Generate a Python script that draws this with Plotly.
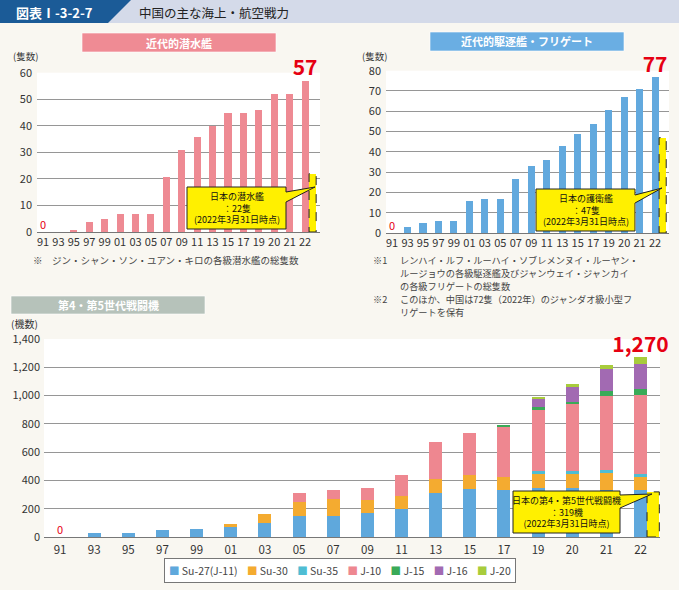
import plotly.graph_objects as go

# ---------------- data ----------------
years = ["91", "93", "95", "97", "99", "01", "03", "05", "07", "09",
         "11", "13", "15", "17", "19", "20", "21", "22"]
submarines = [0, 0, 1, 4, 5, 7, 7, 7, 21, 31, 36, 40, 45, 45, 46, 52, 52, 57]
japan_submarines = 22
destroyers = [0, 3, 5, 6, 6, 16, 17, 17, 27, 33, 36, 43, 49, 54, 61, 67, 71, 77]
japan_destroyers = 47

fighter_names = ["Su-27(J-11)", "Su-30", "Su-35", "J-10", "J-15", "J-16", "J-20"]
su27 = [0, 26, 30, 50, 54, 71, 101, 149, 149, 170, 196, 312, 340, 330, 347, 347, 330, 330]
su30 = [0, 0, 0, 0, 0, 23, 59, 99, 121, 94, 97, 96, 99, 97, 102, 102, 123, 95]
su35 = [0, 0, 0, 0, 0, 0, 0, 0, 0, 0, 0, 0, 0, 0, 21, 21, 24, 24]
j10 = [0, 0, 0, 0, 0, 0, 0, 64, 60, 85, 144, 265, 293, 352, 427, 470, 519, 552]
j15 = [0, 0, 0, 0, 0, 0, 0, 0, 0, 0, 0, 0, 0, 12, 19, 18, 33, 49]
j16 = [0, 0, 0, 0, 0, 0, 0, 0, 0, 0, 0, 0, 0, 0, 61, 102, 158, 173]
j20 = [0, 0, 0, 0, 0, 0, 0, 0, 0, 0, 0, 0, 0, 0, 12, 21, 26, 47]
japan_fighters = 319
fighter_series = [su27, su30, su35, j10, j15, j16, j20]

note_sub = "※　ジン・シャン・ソン・ユアン・キロの各級潜水艦の総隻数"
note_des_marks = ["※1", "", "", "※2", ""]
note_des_lines = ["レンハイ・ルフ・ルーハイ・ソブレメンヌイ・ルーヤン・",
                  "ルージョウの各級駆逐艦及びジャンウェイ・ジャンカイ",
                  "の各級フリゲートの総隻数",
                  "このほか、中国は72隻（2022年）のジャンダオ級小型フ",
                  "リゲートを保有"]

# ---------------- style ----------------
W, H = 679, 590
FONT = "Noto Sans CJK JP"
BG = "#f9f7f1"
GRID = "#969696"
TXT = "#333333"
RED = "#e60012"
YEL = "#fff000"
SUB_COLOR = "#ee8a93"
DES_COLOR = "#62a9de"
FIGHTER_COLORS = ["#5fa8dc", "#f4ab30", "#4fbdd3", "#ee8790", "#3aaa58", "#a26ab2", "#a8cc3c"]


def fx(px):
    return px / W


def fy(py):
    return 1 - py / H


fig = go.Figure()

# top-left: submarines
fig.add_trace(go.Bar(x=years, y=submarines, marker_color=SUB_COLOR, width=0.46, offset=-0.23,
                     xaxis="x", yaxis="y", showlegend=False))
fig.add_trace(go.Bar(x=[years[-1]], y=[japan_submarines], marker_color=YEL, width=0.46, offset=0.26,
                     xaxis="x", yaxis="y", showlegend=False))
# top-right: destroyers
fig.add_trace(go.Bar(x=years, y=destroyers, marker_color=DES_COLOR, width=0.46, offset=-0.23,
                     xaxis="x2", yaxis="y2", showlegend=False))
fig.add_trace(go.Bar(x=[years[-1]], y=[japan_destroyers], marker_color=YEL, width=0.46, offset=0.26,
                     xaxis="x2", yaxis="y2", showlegend=False))
# bottom: fighters stacked via explicit bases
base = [0] * len(years)
for name, vals, col in zip(fighter_names, fighter_series, FIGHTER_COLORS):
    fig.add_trace(go.Bar(x=years, y=vals, base=list(base), name=name, marker_color=col,
                         width=0.38, offset=-0.19, xaxis="x3", yaxis="y3", showlegend=False))
    base = [b + v for b, v in zip(base, vals)]
totals = base
fig.add_trace(go.Bar(x=[years[-1]], y=[japan_fighters], marker_color=YEL, width=0.36, offset=0.19,
                     xaxis="x3", yaxis="y3", showlegend=False))

# red value labels (first and last year) as text traces
for ax, vals in [("", submarines), ("2", destroyers), ("3", totals)]:
    fig.add_trace(go.Scatter(x=[years[0]], y=[vals[0]], mode="text", text=[str(vals[0])],
                             textposition="top center", cliponaxis=False, showlegend=False,
                             textfont=dict(family=FONT, size=11, color=RED),
                             xaxis="x" + ax, yaxis="y" + ax, hoverinfo="skip"))
    fig.add_trace(go.Scatter(x=[years[-1]], y=[vals[-1]], mode="text", text=[f"<b>{vals[-1]:,}</b>"],
                             textposition="top center", cliponaxis=False, showlegend=False,
                             textfont=dict(family=FONT, size=21, color=RED),
                             xaxis="x" + ax, yaxis="y" + ax, hoverinfo="skip"))

last = len(years) - 1
shapes = []
# dashed outlines of the Japan bars
for ax, val, off, w in [("", japan_submarines, 0.26, 0.46), ("2", japan_destroyers, 0.26, 0.46),
                        ("3", japan_fighters, 0.19, 0.36)]:
    shapes.append(dict(type="rect", xref="x" + ax, yref="y" + ax, x0=last + off, x1=last + off + w,
                       y0=0, y1=val, line=dict(color="#222", width=1, dash="dash"), layer="above"))

# header
shapes.append(dict(type="rect", xref="paper", yref="paper", x0=0, x1=1, y0=fy(23), y1=1,
                   fillcolor="#d4dae9", line_width=0, layer="below"))
shapes.append(dict(type="path", xref="paper", yref="paper",
                   path=f"M {fx(0)},{fy(0)} L {fx(131)},{fy(0)} L {fx(108)},{fy(23)} L {fx(0)},{fy(23)} Z",
                   fillcolor="#1b5b97", line_width=0, layer="below"))

# title boxes
for (x0, x1, y0, y1, col) in [(82, 276, 33, 52, "#ef8b94"), (430, 624, 32, 51, "#6aaee3"),
                              (11, 205, 296, 314, "#b6c2ba")]:
    shapes.append(dict(type="rect", xref="paper", yref="paper", x0=fx(x0), x1=fx(x1), y0=fy(y1), y1=fy(y0),
                       fillcolor=col, line=dict(color="rgba(255,255,255,0.6)", width=1), layer="below"))


# callouts (box + wedge)
def callout(x0, x1, y0, y1, wy0, wy1, tx, ty):
    p = (f"M {fx(x0)},{fy(y0)} L {fx(x1)},{fy(y0)} L {fx(x1)},{fy(wy0)} L {fx(tx)},{fy(ty)} "
         f"L {fx(x1)},{fy(wy1)} L {fx(x1)},{fy(y1)} L {fx(x0)},{fy(y1)} Z")
    return dict(type="path", xref="paper", yref="paper", path=p, fillcolor=YEL,
                line=dict(color="#222", width=1), layer="above")


shapes.append(callout(187, 286, 187, 229, 192, 202, 315, 187))
shapes.append(callout(536, 635, 189, 231, 195, 203, 662, 188))
shapes.append(callout(513, 620, 491, 533, 495, 508, 652, 494))

ann = []


def text(x, y, t, size=10, color=TXT, xanchor="left", yanchor="middle", **kw):
    ann.append(dict(x=fx(x), y=fy(y), xref="paper", yref="paper", text=t, showarrow=False,
                    font=dict(family=FONT, size=size, color=color), xanchor=xanchor, yanchor=yanchor, **kw))


text(14, 12, "<b>図表Ⅰ-3-2-7</b>", size=13, color="white")
text(137, 12, "中国の主な海上・航空戦力", size=12.5, color="#222")
text(179, 42.5, "<b>近代的潜水艦</b>", size=11, color="white", xanchor="center")
text(527, 41.5, "<b>近代的駆逐艦・フリゲート</b>", size=11, color="white", xanchor="center")
text(108, 305, "<b>第4・第5世代戦闘機</b>", size=11, color="white", xanchor="center")
text(11, 56.5, "(隻数)", size=9.5)
text(360, 55.5, "(隻数)", size=9.5)
text(9, 323, "(機数)", size=10)

text(31, 260, note_sub, size=9.5, color="#444")
for i, (mark, line) in enumerate(zip(note_des_marks, note_des_lines)):
    yy = 259.5 + i * 13.2
    if mark:
        text(371, yy, mark, size=9.2, color="#444")
    text(398, yy, line, size=9.2, color="#444")

text(236.5, 208, f"日本の潜水艦<br>：{japan_submarines}隻<br>(2022年3月31日時点)", size=9,
     color="#111", xanchor="center")
text(585.5, 210, f"日本の護衛艦<br>：{japan_destroyers}隻<br>(2022年3月31日時点)", size=9,
     color="#111", xanchor="center")
text(566.5, 512, f"日本の第4・第5世代戦闘機<br>：{japan_fighters}機<br>(2022年3月31日時点)", size=9,
     color="#111", xanchor="center")

# legend (manual, compact)
sp = "\u00a0"
parts = [f"<span style='color:{c}'>■</span>{sp}{n}" for n, c in zip(fighter_names, FIGHTER_COLORS)]
legend_text = (sp * 4).join(parts)
ann.append(dict(x=fx(340), y=fy(570), xref="paper", yref="paper", text=legend_text, showarrow=False,
                xanchor="center", yanchor="middle", bgcolor="white", bordercolor="#777", borderwidth=1,
                borderpad=4, font=dict(family=FONT, size=10.5, color="#444")))

common_x = dict(type="category", showgrid=False, zeroline=False, showline=False, ticks="",
                tickfont=dict(family=FONT, size=11, color=TXT), fixedrange=True, ticklabelstandoff=2,
                automargin=False)
common_y = dict(showgrid=True, gridcolor=GRID, gridwidth=1, zeroline=True, zerolinecolor="#777",
                zerolinewidth=1, showline=False, ticks="", tickfont=dict(family=FONT, size=11, color=TXT),
                fixedrange=True, ticklabelstandoff=4, automargin=False)

fig.update_layout(
    template="none",
    width=W, height=H, autosize=False,
    margin=dict(l=0, r=0, t=0, b=0, pad=0, autoexpand=False),
    paper_bgcolor=BG, plot_bgcolor="white", barmode="overlay", bargap=0,
    font=dict(family=FONT, color=TXT),
    xaxis=dict(common_x, domain=[fx(37), fx(320)], range=[-0.39, 17.97], anchor="y"),
    yaxis=dict(common_y, domain=[fy(232), fy(72.7)], range=[0, 60], dtick=10, anchor="x"),
    xaxis2=dict(common_x, domain=[fx(386), fx(669)], range=[-0.39, 17.9], anchor="y2"),
    yaxis2=dict(common_y, domain=[fy(233), fy(70.7)], range=[0, 80], dtick=10, anchor="x2"),
    xaxis3=dict(common_x, domain=[fx(44), fx(660)], range=[-0.47, 17.57], anchor="y3",
                ticklabelstandoff=4, tickfont=dict(family=FONT, size=11.5, color=TXT)),
    yaxis3=dict(common_y, domain=[fy(537), fy(339)], range=[0, 1400], dtick=200, tickformat=",d",
                anchor="x3", ticklabelstandoff=3),
    shapes=shapes, annotations=ann, showlegend=False,
)

fig.write_html("out.html",
               post_script="document.body.style.margin='0px';document.body.style.background='#f9f7f1';")
